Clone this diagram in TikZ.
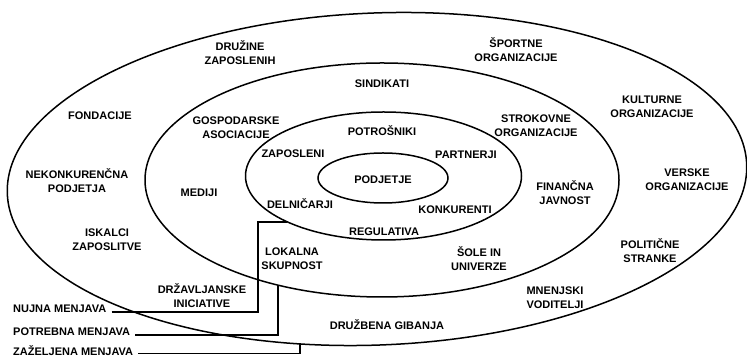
\documentclass[tikz,border=0pt]{standalone}
\usepackage{fontspec}
\setmainfont{Liberation Sans}
\usepackage{tikz}

\begin{document}
\begin{tikzpicture}[x=1pt, y=1pt,
  ring/.style={line width=1.5pt},
  lead/.style={line width=1.3pt},
  lbl/.style={font=\fontsize{11}{14}\selectfont\bfseries, align=center, inner sep=1pt}]

\useasboundingbox (0,0) rectangle (747,358);

% --- Rings ---
\draw[ring, rotate around={2.3:(377,179)}] (377,179) ellipse [x radius=370, y radius=166];
\draw[ring] (382,178) ellipse [x radius=237, y radius=117];
\draw[ring] (383.5,182) ellipse [x radius=138, y radius=64];
\draw[ring] (383,180) ellipse [x radius=65, y radius=25];

% --- Core ---
\node[lbl] (podjetje) at (383,178) {PODJETJE};

% --- Inner ring ---
\node[lbl] (potrosniki) at (382,227) {POTROŠNIKI};
\node[lbl] (zaposleni) at (293,204) {ZAPOSLENI};
\node[lbl] (partnerji) at (466,203) {PARTNERJI};
\node[lbl] (delnicarji) at (300,154) {DELNIČARJI};
\node[lbl] (konkurenti) at (455,148) {KONKURENTI};
\node[lbl] (regulativa) at (384,126) {REGULATIVA};

% --- Middle ring ---
\node[lbl] (sindikati) at (382,274) {SINDIKATI};
\node[lbl] (gospodarske) at (236,230) {GOSPODARSKE\\ASOCIACIJE};
\node[lbl] (strokovne) at (536,232) {STROKOVNE\\ORGANIZACIJE};
\node[lbl] (mediji) at (199,165) {MEDIJI};
\node[lbl] (financna) at (565,165) {FINANČNA\\JAVNOST};
\node[lbl] (lokalna) at (292,99) {LOKALNA\\SKUPNOST};
\node[lbl] (sole) at (479,99) {ŠOLE IN\\UNIVERZE};

% --- Outer ring ---
\node[lbl] (druzine) at (240,305) {DRUŽINE\\ZAPOSLENIH};
\node[lbl] (sportne) at (516,308) {ŠPORTNE\\ORGANIZACIJE};
\node[lbl] (fondacije) at (100,242) {FONDACIJE};
\node[lbl] (kulturne) at (652,251) {KULTURNE\\ORGANIZACIJE};
\node[lbl] (nekonkurencna) at (77,177) {NEKONKURENČNA\\PODJETJA};
\node[lbl] (verske) at (687,178) {VERSKE\\ORGANIZACIJE};
\node[lbl] (iskalci) at (107,118) {ISKALCI\\ZAPOSLITVE};
\node[lbl] (politicne) at (650,107) {POLITIČNE\\STRANKE};
\node[lbl] (drzavljanske) at (202,62) {DRŽAVLJANSKE\\INICIATIVE};
\node[lbl] (mnenjski) at (555,60) {MNENJSKI\\VODITELJI};
\node[lbl] (druzbena) at (387,33) {DRUŽBENA GIBANJA};

% --- Change levels ---
\node[lbl, anchor=west] (nujna) at (12,49) {NUJNA MENJAVA};
\node[lbl, anchor=west] (potrebna) at (12,26) {POTREBNA MENJAVA};
\node[lbl, anchor=west] (zazeljena) at (12,7.5) {ZAŽELJENA MENJAVA};

\coordinate (nujna-end) at (287,136);
\coordinate (potrebna-end) at (278,73);
\coordinate (zazeljena-end) at (300,15);

\draw[lead] ([xshift=4pt,yshift=-3pt]nujna.east) -- (258,46) |- (nujna-end);
\draw[lead] ([xshift=4pt,yshift=-3pt]potrebna.east) -| (potrebna-end);
\draw[lead] ([xshift=4pt,yshift=-3pt]zazeljena.east) -| (zazeljena-end);

\end{tikzpicture}
\end{document}
